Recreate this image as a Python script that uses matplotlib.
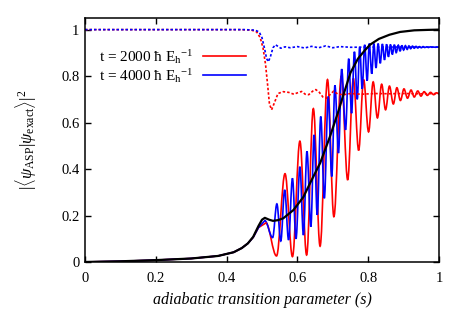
import matplotlib
matplotlib.use("Agg")
import matplotlib.pyplot as plt
from matplotlib.path import Path
from matplotlib.patches import PathPatch

plt.rcParams['font.family'] = ['Liberation Serif', 'DejaVu Serif']
plt.rcParams['mathtext.fontset'] = 'custom'
plt.rcParams['mathtext.rm'] = 'Liberation Serif'
plt.rcParams['mathtext.it'] = 'Liberation Serif:italic'

# exact overlap (black)
s_exact = [0, 0.1, 0.2, 0.3, 0.376, 0.42, 0.443, 0.46, 0.475, 0.49, 0.5, 0.508, 0.52,
           0.531, 0.545, 0.56, 0.589, 0.617, 0.636, 0.664, 0.692, 0.716, 0.73, 0.75,
           0.771, 0.79, 0.805, 0.83, 0.86, 0.89, 0.93, 0.97, 1.0]
y_exact = [0, 0.003, 0.008, 0.015, 0.026, 0.042, 0.06, 0.08, 0.108, 0.155, 0.182, 0.19,
           0.182, 0.177, 0.18, 0.188, 0.224, 0.28, 0.34, 0.425, 0.54, 0.65, 0.72, 0.815,
           0.875, 0.91, 0.935, 0.96, 0.978, 0.99, 0.997, 0.999, 1.0]

# common rising part before the bump
s_pre = [0, 0.1, 0.2, 0.3, 0.376, 0.42, 0.443, 0.46, 0.475, 0.49]
y_pre = [0, 0.003, 0.008, 0.015, 0.026, 0.042, 0.06, 0.08, 0.106, 0.148]

# t = 2000 (red), extrema from the bump on
s_red = [0.511, 0.541, 0.565, 0.586, 0.607, 0.626, 0.645, 0.664, 0.685, 0.703, 0.724,
         0.742, 0.758, 0.773, 0.787, 0.801, 0.814, 0.826, 0.838, 0.849, 0.86, 0.871,
         0.881, 0.891, 0.901, 0.911, 0.921, 0.93, 0.94, 0.949, 0.958, 0.967, 0.976,
         0.985, 0.993, 1.0]
y_red = [0.168, 0.026, 0.38, 0.023, 0.52, 0.03, 0.66, 0.068, 0.785, 0.195, 0.80,
         0.353, 0.79, 0.48, 0.785, 0.56, 0.775, 0.62, 0.765, 0.655, 0.757, 0.68,
         0.75, 0.695, 0.745, 0.705, 0.74, 0.71, 0.736, 0.714, 0.733, 0.717, 0.73,
         0.72, 0.728, 0.724]

# t = 4000 (blue), extrema from the bump on
s_blue = [0.508, 0.530, 0.542, 0.553, 0.564, 0.575, 0.586, 0.596, 0.607, 0.617, 0.627,
          0.638, 0.647, 0.656, 0.666, 0.676, 0.687, 0.697, 0.706, 0.716, 0.725, 0.736,
          0.745, 0.753, 0.761, 0.769, 0.776, 0.783, 0.790, 0.797, 0.803, 0.810, 0.816,
          0.822, 0.828, 0.834, 0.840, 0.846, 0.852, 0.857, 0.863, 0.868, 0.874, 0.879,
          0.885, 0.890, 0.895, 0.900, 0.905, 0.910, 0.915, 0.920, 0.925, 0.930, 0.935,
          0.940, 0.945, 0.950, 0.955, 0.960, 0.965, 0.970, 0.975, 0.980, 0.985, 0.990,
          0.995, 1.0]
y_blue = [0.178, 0.105, 0.25, 0.09, 0.31, 0.095, 0.36, 0.10, 0.41, 0.116, 0.476,
          0.152, 0.547, 0.203, 0.626, 0.274, 0.712, 0.368, 0.76, 0.469, 0.83, 0.569,
          0.875, 0.64, 0.905, 0.70, 0.925, 0.745, 0.935, 0.78, 0.94, 0.81, 0.94,
          0.835, 0.94, 0.855, 0.938, 0.87, 0.937, 0.883, 0.936, 0.893, 0.935, 0.901,
          0.933, 0.907, 0.932, 0.912, 0.931, 0.915, 0.93, 0.918, 0.929, 0.92, 0.928,
          0.921, 0.927, 0.922, 0.927, 0.923, 0.926, 0.923, 0.926, 0.924, 0.925, 0.924,
          0.925, 0.925]

# dotted curves near the top
s_red_dot = [0, 0.44, 0.47, 0.485, 0.495, 0.503, 0.51, 0.516, 0.521, 0.527, 0.535, 0.545,
             0.56, 0.575, 0.59, 0.60, 0.612, 0.622, 0.632, 0.643, 0.652, 0.662, 0.672,
             0.682, 0.692, 0.702, 0.715, 0.73, 0.75, 0.78, 0.82, 0.86, 0.9, 0.95, 1.0]
y_red_dot = [1, 1, 0.998, 0.99, 0.965, 0.92, 0.85, 0.76, 0.68, 0.655, 0.685, 0.725,
             0.733, 0.73, 0.722, 0.728, 0.734, 0.722, 0.72, 0.735, 0.742, 0.73, 0.71,
             0.705, 0.72, 0.735, 0.722, 0.72, 0.725, 0.722, 0.725, 0.724, 0.725, 0.724, 0.725]
s_blue_dot = [0, 0.45, 0.48, 0.492, 0.50, 0.507, 0.513, 0.518, 0.524, 0.531, 0.538, 0.545,
              0.553, 0.565, 0.58, 0.6, 0.62, 0.64, 0.66, 0.68, 0.7, 0.72, 0.75, 0.8,
              0.85, 0.9, 1.0]
y_blue_dot = [1, 1, 0.998, 0.99, 0.965, 0.92, 0.875, 0.862, 0.885, 0.922, 0.935, 0.928,
              0.92, 0.926, 0.922, 0.927, 0.921, 0.928, 0.922, 0.93, 0.922, 0.927, 0.924,
              0.925, 0.925, 0.925, 0.925]

ticks = [0, 0.2, 0.4, 0.6, 0.8, 1]
tick_labels = ['0', '0.2', '0.4', '0.6', '0.8', '1']
legend_labels = [r't = 2000 ħ E$_{\rm h}{}^{-1}$', r't = 4000 ħ E$_{\rm h}{}^{-1}$']


def wiggle(ax, xs, ys, color, lw=1.2, k=0.36):
    # smooth curve through extrema, flat tangent at each one
    verts = [(xs[0], ys[0])]
    codes = [Path.MOVETO]
    for i in range(len(xs) - 1):
        dx = xs[i + 1] - xs[i]
        verts += [(xs[i] + k * dx, ys[i]), (xs[i + 1] - k * dx, ys[i + 1]), (xs[i + 1], ys[i + 1])]
        codes += [Path.CURVE4] * 3
    ax.add_patch(PathPatch(Path(verts, codes), fill=False, edgecolor=color, lw=lw,
                           transform=ax.transData))


fig = plt.figure(figsize=(4.63, 3.24), dpi=100)
ax = fig.add_axes([0.1836, 0.1914, 0.7646, 0.7530])

ax.plot(s_red_dot, y_red_dot, color='red', lw=1.2, ls=(0, (1.5, 1.2)))
ax.plot(s_blue_dot, y_blue_dot, color='blue', lw=1.2, ls=(0, (1.5, 1.2)))

ax.plot(s_pre + [s_red[0]], y_pre + [y_red[0]], color='red', lw=1.2)
wiggle(ax, s_red, y_red, 'red')
ax.plot(s_pre + [s_blue[0]], y_pre + [y_blue[0]], color='blue', lw=1.2)
wiggle(ax, s_blue, y_blue, 'blue')
ax.plot(s_exact, y_exact, color='black', lw=1.6)

ax.set_xlim(0, 1)
ax.set_ylim(0, 1.05)
ax.set_xticks(ticks)
ax.set_xticklabels(tick_labels)
ax.set_yticks(ticks)
ax.set_yticklabels(tick_labels)
ax.tick_params(direction='in', top=True, right=True, length=4, width=1, labelsize=10.5)
ax.tick_params(axis='x', pad=7)
ax.tick_params(axis='y', pad=4)
for sp in ax.spines.values():
    sp.set_linewidth(1.1)

ax.set_xlabel('adiabatic transition parameter (s)', fontstyle='italic', fontsize=11.5, labelpad=5)
ax.set_ylabel(r'$|\langle\psi_{\rm ASP}|\psi_{\rm exact}\rangle|^2$', fontsize=12, labelpad=16)

# key, drawn by hand in axes fractions
for row, (lab, col) in enumerate(zip(legend_labels, ['red', 'blue'])):
    yb = 0.82 - row * 0.078
    ax.text(0.305, yb, lab, transform=ax.transAxes, ha='right', va='baseline', fontsize=11)
    ax.plot([0.333, 0.455], [yb + 0.025, yb + 0.025], transform=ax.transAxes, color=col, lw=1.2)

fig.savefig('out.png', dpi=100)
